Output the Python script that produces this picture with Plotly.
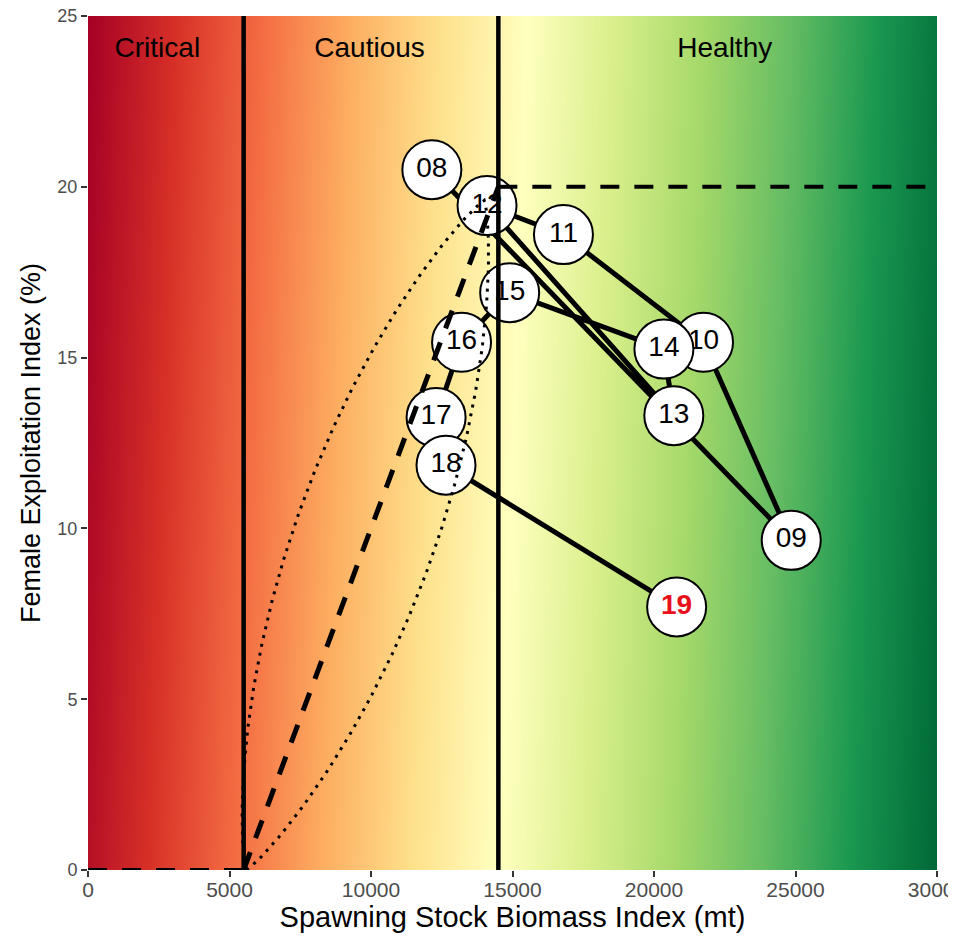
import numpy as np
import plotly.graph_objects as go

# ---- data ----
years = ["08", "09", "10", "11", "12", "13", "14", "15", "16", "17", "18", "19"]
ssb = [12150, 24850, 21750, 16800, 14100, 20700, 20350, 14900, 13200, 12300, 12650, 20800]
exploit = [20.5, 9.65, 15.45, 18.6, 19.45, 13.3, 15.25, 16.9, 15.45, 13.25, 11.85, 7.7]
label_colors = ["black"] * 11 + ["#e8101a"]

x_ticks = [0, 5000, 10000, 15000, 20000, 25000, 30000]
y_ticks = [0, 5, 10, 15, 20, 25]

limit_ref = 5500      # critical/cautious boundary
upper_ref = 14500     # cautious/healthy boundary
f_ref = 20            # reference exploitation

zones = ["Critical", "Cautious", "Healthy"]
zone_x = [2450, 9950, 22500]
zone_y = [24.0, 24.0, 24.0]

# lens-shaped uncertainty region (tips and half-width vector, data units)
lens_tip_a = (5600, 0.0)
lens_tip_b = (14000, 19.6)
lens_half_width = (2330, -0.69)

FONT = "Liberation Sans"
fig = go.Figure()

# ---- gradient background ----
gx = np.linspace(-1000, 31000, 129)
gy = np.linspace(-1, 26, 10)
gz = [[xv - 40 * yv for xv in gx] for yv in gy]
rdylgn = [
    [0.0, "#a50026"], [0.1, "#d73027"], [0.2, "#f46d43"], [0.3, "#fdae61"],
    [0.4, "#fee08b"], [0.5, "#ffffbf"], [0.6, "#d9ef8b"], [0.7, "#a6d96a"],
    [0.8, "#66bd63"], [0.9, "#1a9850"], [1.0, "#006837"],
]
fig.add_trace(go.Heatmap(x=gx, y=gy, z=gz, colorscale=rdylgn, zmin=-1000, zmax=30000,
                         zsmooth="best", showscale=False, hoverinfo="skip"))

# ---- trajectory ----
fig.add_trace(go.Scatter(x=ssb, y=exploit, mode="lines",
                         line=dict(color="black", width=5), hoverinfo="skip",
                         showlegend=False))

for xv, yv, lab, col in zip(ssb, exploit, years, label_colors):
    fig.add_trace(go.Scatter(
        x=[xv], y=[yv], mode="markers+text", text=[lab], textposition="middle center",
        marker=dict(size=59, color="white", line=dict(color="black", width=2)),
        textfont=dict(size=28, color=col, family=FONT,
                      weight="bold" if col != "black" else "normal"),
        showlegend=False, hoverinfo="skip"))

# ---- reference lines ----
for xv in [limit_ref, upper_ref]:
    fig.add_trace(go.Scatter(x=[xv, xv], y=[0, 25], mode="lines",
                             line=dict(color="black", width=4.5), cliponaxis=False,
                             showlegend=False, hoverinfo="skip"))

dash = "19px,15px"
fig.add_trace(go.Scatter(x=[0, limit_ref], y=[0, 0], mode="lines",
                         line=dict(color="black", width=4, dash=dash), cliponaxis=False,
                         showlegend=False, hoverinfo="skip"))
fig.add_trace(go.Scatter(x=[limit_ref, upper_ref], y=[0, f_ref], mode="lines",
                         line=dict(color="black", width=5, dash=dash),
                         showlegend=False, hoverinfo="skip"))
fig.add_trace(go.Scatter(x=[upper_ref, 30000], y=[f_ref, f_ref], mode="lines",
                         line=dict(color="black", width=4, dash=dash),
                         showlegend=False, hoverinfo="skip"))

# lens region
s = np.linspace(-1, 1, 121)
h = np.clip(1 - s ** 2, 0, None) ** 0.85
mx = (lens_tip_a[0] + lens_tip_b[0]) / 2
my = (lens_tip_a[1] + lens_tip_b[1]) / 2
hx = (lens_tip_b[0] - lens_tip_a[0]) / 2
hy = (lens_tip_b[1] - lens_tip_a[1]) / 2
ex = np.concatenate([mx + s * hx + h * lens_half_width[0], (mx + s * hx - h * lens_half_width[0])[::-1]])
ey = np.concatenate([my + s * hy + h * lens_half_width[1], (my + s * hy - h * lens_half_width[1])[::-1]])
fig.add_trace(go.Scatter(x=ex, y=ey, mode="lines",
                         line=dict(color="black", width=3, dash="3px,6px"),
                         showlegend=False, hoverinfo="skip"))

# zone labels
fig.add_trace(go.Scatter(x=zone_x, y=zone_y, mode="text", text=zones,
                         textposition="middle center",
                         textfont=dict(size=28, color="black", family=FONT),
                         showlegend=False, hoverinfo="skip"))

axis_common = dict(showgrid=False, zeroline=False, ticks="outside", ticklen=6,
                   tickwidth=1.5, tickcolor="#333333", showline=False,
                   automargin=False, ticklabeloverflow="allow")
fig.update_xaxes(range=[0, 30000], tickvals=x_ticks, ticktext=[str(v) for v in x_ticks],
                 tickfont=dict(size=21, color="#4d4d4d", family=FONT),
                 ticklabelstandoff=-5,
                 title=dict(text="Spawning Stock Biomass Index (mt)",
                            font=dict(size=29, color="black", family=FONT),
                            standoff=6),
                 **axis_common)
fig.update_yaxes(range=[0, 25], tickvals=y_ticks, ticktext=[str(v) for v in y_ticks],
                 tickfont=dict(size=18, color="#4d4d4d", family=FONT),
                 title=dict(text="Female Exploitation Index (%)",
                            font=dict(size=27, color="black", family=FONT),
                            standoff=8),
                 **axis_common)

# page body adds an 8px offset; compensate in size and margins
fig.update_layout(width=948, height=932, margin=dict(l=80, r=19, t=8, b=70),
                  plot_bgcolor="white", paper_bgcolor="white", showlegend=False)

fig.write_html("out.html")
